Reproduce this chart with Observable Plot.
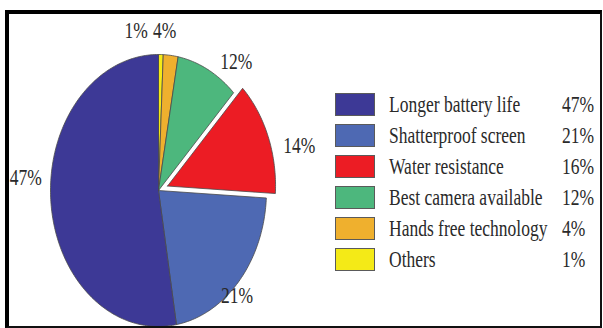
<!DOCTYPE html>
<html>
<head>
<meta charset="utf-8">
<script src="https://cdn.jsdelivr.net/npm/d3@7"></script>
<script src="https://cdn.jsdelivr.net/npm/@observablehq/plot@0.6"></script>
<style>
  html, body { margin: 0; padding: 0; background: #fff; }
  #wrap { position: relative; width: 603px; height: 328px; overflow: hidden; font-family: "Liberation Serif", "Times New Roman", serif; }
  #chart { position: absolute; left: 0; top: 0; }
  #frame { position: absolute; left: 5px; top: 10px; width: 597px; height: 318px; box-sizing: border-box;
           border-left: 4px solid #000; border-top: 4px solid #000; border-right: 2px solid #111; border-bottom: 2px solid #111; pointer-events: none; }
  #legend { position: absolute; left: 335px; top: 93px; }
  .row { position: relative; height: 31px; width: 265px; }
  .sw { position: absolute; left: 0; top: 0; width: 40px; height: 23px; box-sizing: border-box; border: 1px solid #5a5a5a; }
  .lab, .pct { position: absolute; top: 12px; transform: translateY(-50%) scaleY(1.3); font-size: 17.5px; line-height: 1; color: #2a2a2a; white-space: nowrap; }
  .lab { left: 54px; }
  .pct { left: 227px; }
</style>
</head>
<body>
<div id="wrap">
  <div id="chart"></div>
  <div id="legend"></div>
  <div id="frame"></div>
</div>
<script>
// ---- data ----
const categories = ["Longer battery life", "Shatterproof screen", "Water resistance", "Best camera available", "Hands free technology", "Others"];
const legendPct = ["47%", "21%", "16%", "12%", "4%", "1%"];
const sliceLabels = ["47%", "21%", "14%", "12%", "4%", "1%"];
// angular shares as drawn in the picture (percent of full circle)
const sliceShare = [52.5, 21.4, 13.6, 9.3, 2.2, 0.7];
const colors = ["#3d3996", "#4e69b3", "#ec1c24", "#4db77d", "#efb02e", "#f4ea17"];
const explodedCategory = "Water resistance";

// ---- layout / style ----
const RX = 108, RY = 136, CX = 158, CY = 190;
const explode = 0.09;
const labelRadius = 1.15;
const labelNudge = [[-9, -26], [-14, 1], [16, 17], [21, 10], [-8, -4], [-25, -3]]; // px
const textStretch = 1.3;

// pie drawn clockwise from 12 o'clock: Others, Hands free, Best camera, Water, Shatterproof, Longer
const order = d3.range(categories.length).reverse();
const arcs = d3.pie().sort(null).value(i => sliceShare[i]).startAngle(0).endAngle(2 * Math.PI)(order);

const polyPts = [];
const labelPts = [];
for (const a of arcs) {
  const i = a.data;
  const cat = categories[i];
  const mid = (a.startAngle + a.endAngle) / 2;
  const off = cat === explodedCategory ? explode : 0;
  const ox = off * Math.sin(mid), oy = off * Math.cos(mid);
  const n = Math.max(2, Math.ceil((a.endAngle - a.startAngle) / (Math.PI / 180)));
  polyPts.push({cat, x: ox, y: oy});
  for (let k = 0; k <= n; k++) {
    const t = a.startAngle + (a.endAngle - a.startAngle) * k / n;
    polyPts.push({cat, x: ox + Math.sin(t), y: oy + Math.cos(t)});
  }
  polyPts.push({cat, x: ox, y: oy});
  const [dx, dy] = labelNudge[i];
  labelPts.push({
    text: sliceLabels[i],
    x: ox + labelRadius * Math.sin(mid) + dx / RX,
    y: oy + labelRadius * Math.cos(mid) - dy / RY
  });
}

const plot = Plot.plot({
  width: 603,
  height: 328,
  margin: 0,
  style: {background: "transparent", fontFamily: "Liberation Serif, Times New Roman, serif"},
  x: {domain: [-1, 1], range: [CX - RX, CX + RX], axis: null},
  y: {domain: [-1, 1], range: [CY + RY, CY - RY], axis: null},
  color: {domain: categories, range: colors},
  marks: [
    Plot.line(polyPts, {x: "x", y: "y", z: "cat", fill: "cat", stroke: "#4a4a4a", strokeWidth: 0.8, strokeLinejoin: "round", curve: "linear"}),
    Plot.text(labelPts, {x: "x", y: "y", text: "text", fontSize: 17.5, fill: "#2a2a2a", textAnchor: "middle", lineAnchor: "middle"})
  ]
});
// stretch the pie labels vertically like the (vertically stretched) original
plot.querySelectorAll("text").forEach(t => {
  const tr = t.getAttribute("transform");
  if (tr && tr.includes("translate")) {
    t.setAttribute("transform", tr + ` scale(1,${textStretch})`);
  } else {
    const x = +t.getAttribute("x") || 0, y = +t.getAttribute("y") || 0;
    t.setAttribute("x", 0); t.setAttribute("y", 0);
    t.setAttribute("transform", `${tr || ""} translate(${x},${y}) scale(1,${textStretch})`);
  }
});
document.getElementById("chart").appendChild(plot);

// legend
const legend = document.getElementById("legend");
categories.forEach((c, i) => {
  const row = document.createElement("div");
  row.className = "row";
  row.innerHTML = `<div class="sw" style="background:${colors[i]}"></div><div class="lab">${c}</div><div class="pct">${legendPct[i]}</div>`;
  legend.appendChild(row);
});
</script>
</body>
</html>
